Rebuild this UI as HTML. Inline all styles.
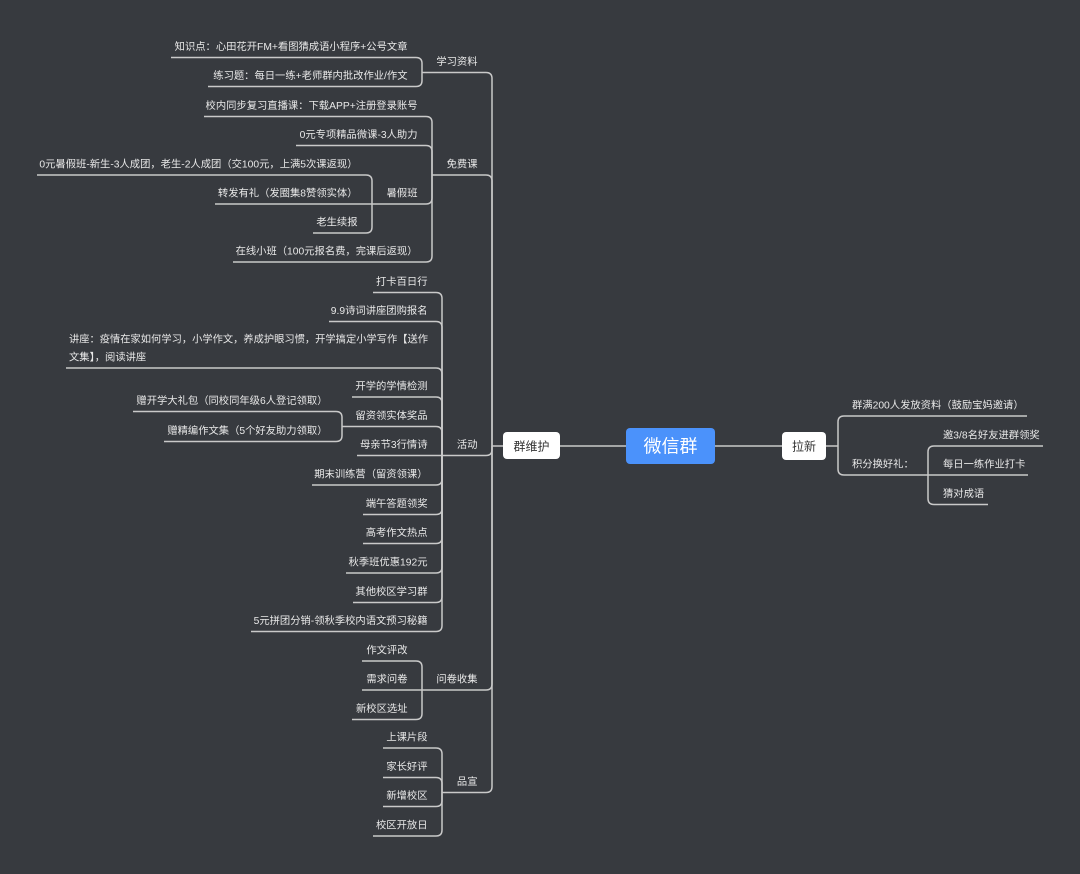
<!DOCTYPE html>
<html>
<head>
<meta charset="utf-8">
<style>
html,body{margin:0;padding:0;background:#373a3f;}
svg{display:block;}
text{font-family:"Liberation Sans","Noto Sans CJK SC",sans-serif;}
</style>
</head>
<body>
<svg width="1080" height="874" viewBox="0 0 1080 874" xmlns="http://www.w3.org/2000/svg">
<rect width="1080" height="874" fill="#373a3f"/>
<g fill="none" stroke="#c9c9c9" stroke-width="1.5">
<path d="M503 446 H492"/>
<path d="M492 446 V78.5 Q492 72.5 486 72.5 H422"/>
<path d="M492 446 V181 Q492 175 486 175 H432"/>
<path d="M492 446 V449.5 Q492 455.5 486 455.5 H442"/>
<path d="M492 446 V684 Q492 690 486 690 H422"/>
<path d="M492 446 V786.5 Q492 792.5 486 792.5 H442"/>
<path d="M422 72.5 V63.5 Q422 57.5 416 57.5 H171"/>
<path d="M422 72.5 V80.5 Q422 86.5 416 86.5 H208"/>
<path d="M432 175 V122.5 Q432 116.5 426 116.5 H204"/>
<path d="M432 175 V151.5 Q432 145.5 426 145.5 H296"/>
<path d="M432 175 V198 Q432 204 426 204 H372"/>
<path d="M432 175 V256 Q432 262 426 262 H233"/>
<path d="M372 204 V181 Q372 175 366 175 H37"/>
<path d="M372 204 H215"/>
<path d="M372 204 V227 Q372 233 366 233 H313"/>
<path d="M442 455.5 V298.5 Q442 292.5 436 292.5 H373"/>
<path d="M442 455.5 V327.5 Q442 321.5 436 321.5 H329"/>
<path d="M442 455.5 V374 Q442 368 436 368 H66"/>
<path d="M442 455.5 V403 Q442 397 436 397 H352"/>
<path d="M442 455.5 V432.5 Q442 426.5 436 426.5 H342"/>
<path d="M442 455.5 H357"/>
<path d="M442 455.5 V479 Q442 485 436 485 H312"/>
<path d="M442 455.5 V508.5 Q442 514.5 436 514.5 H363"/>
<path d="M442 455.5 V537.5 Q442 543.5 436 543.5 H363"/>
<path d="M442 455.5 V567 Q442 573 436 573 H346"/>
<path d="M442 455.5 V596.5 Q442 602.5 436 602.5 H353"/>
<path d="M442 455.5 V625.5 Q442 631.5 436 631.5 H251"/>
<path d="M342 426.5 V417.5 Q342 411.5 336 411.5 H133"/>
<path d="M342 426.5 V435.5 Q342 441.5 336 441.5 H164"/>
<path d="M422 690 V667 Q422 661 416 661 H362"/>
<path d="M422 690 H362"/>
<path d="M422 690 V713.5 Q422 719.5 416 719.5 H352"/>
<path d="M442 792.5 V754 Q442 748 436 748 H383"/>
<path d="M442 792.5 V783.5 Q442 777.5 436 777.5 H383"/>
<path d="M442 792.5 V800.5 Q442 806.5 436 806.5 H383"/>
<path d="M442 792.5 V830 Q442 836 436 836 H373"/>
<path d="M560 446 H626"/>
<path d="M715 446 H782"/>
<path d="M826 446 H838"/>
<path d="M838 446 V422 Q838 416 844 416 H1027"/>
<path d="M838 446 V469 Q838 475 844 475 H928"/>
<path d="M928 475 V452 Q928 446 934 446 H1043"/>
<path d="M928 475 H1028"/>
<path d="M928 475 V498.5 Q928 504.5 934 504.5 H988"/>
</g>

<rect x="503" y="432" width="57" height="27" rx="4" fill="#ffffff"/>
<text x="531.5" y="450.5" font-size="12" fill="#333333" text-anchor="middle">群维护</text>
<rect x="626" y="428" width="89" height="36" rx="4" fill="#4b92fb"/>
<text x="670.5" y="452.5" font-size="18" fill="#ffffff" text-anchor="middle">微信群</text>
<rect x="782" y="432" width="44" height="28" rx="4" fill="#ffffff"/>
<text x="804" y="450.5" font-size="12" fill="#333333" text-anchor="middle">拉新</text>

<g font-size="10.3" fill="#e8e8e8" text-anchor="end">
<text x="477.5" y="65">学习资料</text>
<text x="477.5" y="167.5">免费课</text>
<text x="477.5" y="448">活动</text>
<text x="477.5" y="682.5">问卷收集</text>
<text x="477.5" y="785">品宣</text>

<text x="407.5" y="50">知识点：心田花开FM+看图猜成语小程序+公号文章</text>
<text x="407.5" y="79">练习题：每日一练+老师群内批改作业/作文</text>

<text x="417.5" y="109">校内同步复习直播课：下载APP+注册登录账号</text>
<text x="417.5" y="138">0元专项精品微课-3人助力</text>
<text x="417.5" y="196.5">暑假班</text>
<text x="417.5" y="254.5">在线小班（100元报名费，完课后返现）</text>

<text x="357.5" y="167.5">0元暑假班-新生-3人成团，老生-2人成团（交100元，上满5次课返现）</text>
<text x="357.5" y="196.5">转发有礼（发圈集8赞领实体）</text>
<text x="357.5" y="225.5">老生续报</text>

<text x="427.5" y="285">打卡百日行</text>
<text x="427.5" y="314">9.9诗词讲座团购报名</text>
<text x="427.5" y="389.5">开学的学情检测</text>
<text x="427.5" y="419">留资领实体奖品</text>
<text x="327.5" y="404">赠开学大礼包（同校同年级6人登记领取）</text>
<text x="327.5" y="434">赠精编作文集（5个好友助力领取）</text>
<text x="427.5" y="448">母亲节3行情诗</text>
<text x="427.5" y="477.5">期末训练营（留资领课）</text>
<text x="427.5" y="507">端午答题领奖</text>
<text x="427.5" y="536">高考作文热点</text>
<text x="427.5" y="565.5">秋季班优惠192元</text>
<text x="427.5" y="595">其他校区学习群</text>
<text x="427.5" y="624">5元拼团分销-领秋季校内语文预习秘籍</text>

<text x="407.5" y="653.5">作文评改</text>
<text x="407.5" y="682.5">需求问卷</text>
<text x="407.5" y="712">新校区选址</text>

<text x="427.5" y="740.5">上课片段</text>
<text x="427.5" y="770">家长好评</text>
<text x="427.5" y="799">新增校区</text>
<text x="427.5" y="828.5">校区开放日</text>
</g>

<g font-size="10.3" fill="#e8e8e8" text-anchor="start">
<text x="69" y="342.5" textLength="359" lengthAdjust="spacingAndGlyphs">讲座：疫情在家如何学习，小学作文，养成护眼习惯，开学搞定小学写作【送作</text>
<text x="69" y="360.5">文集】，阅读讲座</text>

<text x="852" y="408.5">群满200人发放资料（鼓励宝妈邀请）</text>
<text x="852" y="467.5">积分换好礼：</text>
<text x="943" y="438.5">邀3/8名好友进群领奖</text>
<text x="943" y="467.5">每日一练作业打卡</text>
<text x="943" y="497">猜对成语</text>
</g>
</svg>
</body>
</html>
